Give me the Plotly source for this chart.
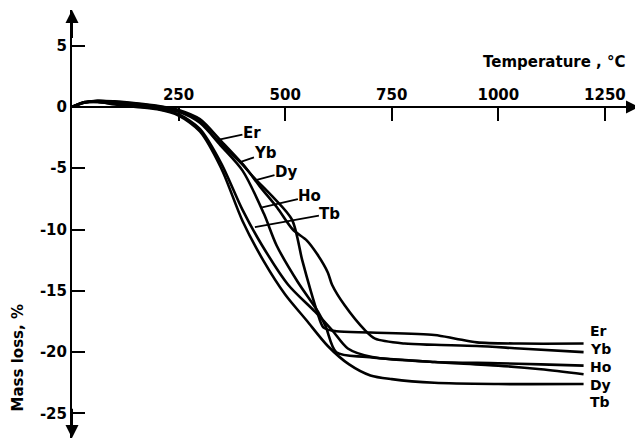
import plotly.graph_objects as go

# ---- data ----
er_t = [0, 30, 60, 100, 150, 200, 250, 300, 340, 400, 425, 470, 516, 540, 560, 575, 590, 620, 700, 850, 900, 950, 1050, 1200]
er_m = [0, 0.35, 0.5, 0.4, 0.25, 0.05, -0.3, -1.2, -2.7, -4.7, -5.7, -7.3, -9.2, -12.5, -15.0, -16.7, -18.0, -18.3, -18.4, -18.6, -18.9, -19.2, -19.3, -19.3]

yb_t = [0, 30, 60, 100, 150, 200, 250, 300, 350, 406, 441, 481, 518, 551, 575, 600, 610, 640, 687, 711, 780, 851, 950, 1050, 1200]
yb_m = [0, 0.35, 0.5, 0.45, 0.3, 0.1, -0.25, -1.0, -2.8, -4.9, -6.5, -8.2, -10.0, -10.9, -12.0, -13.5, -14.5, -16.2, -18.2, -18.9, -19.3, -19.4, -19.5, -19.7, -20.0]

dy_t = [0, 30, 60, 100, 150, 200, 250, 300, 350, 400, 450, 480, 530, 577, 595, 620, 690, 850, 1000, 1100, 1200]
dy_m = [0, 0.4, 0.45, 0.3, 0.1, -0.1, -0.4, -1.3, -3.2, -5.2, -8.7, -11.3, -14.3, -16.7, -17.9, -20.0, -20.4, -20.8, -21.1, -21.4, -21.8]

ho_t = [0, 30, 60, 100, 150, 200, 250, 300, 350, 400, 446, 507, 570, 610, 647, 704, 851, 1000, 1100, 1200]
ho_m = [0, 0.4, 0.4, 0.25, 0.05, -0.15, -0.6, -1.8, -4.6, -8.4, -11.3, -14.5, -16.7, -18.2, -19.7, -20.4, -20.8, -20.9, -21.0, -21.1]

tb_t = [0, 30, 60, 100, 150, 200, 250, 300, 350, 400, 450, 500, 550, 600, 650, 700, 750, 850, 1000, 1200]
tb_m = [0, 0.35, 0.4, 0.2, 0.0, -0.2, -0.7, -2.0, -5.0, -9.3, -12.6, -15.3, -17.4, -19.5, -21.0, -21.9, -22.2, -22.5, -22.6, -22.6]

x_ticks = [250, 500, 750, 1000, 1250]
x_tick_text = ["250", "500", "750", "1000", "1250"]
y_ticks = [5, 0, -5, -10, -15, -20, -25]
y_tick_text = ["5", "0", "-5", "-10", "-15", "-20", "-25"]

series = [("Er", er_t, er_m), ("Yb", yb_t, yb_m), ("Dy", dy_t, dy_m),
          ("Ho", ho_t, ho_m), ("Tb", tb_t, tb_m)]

# end labels (right side) and inner labels with leader lines
end_labels = [("Er", -18.3), ("Yb", -19.75), ("Ho", -21.2), ("Dy", -22.65), ("Tb", -24.1)]
inner_labels = [  # name, text x, text y, curve point x, curve point y
    ("Er", 422, -2.1, 342, -2.7),
    ("Yb", 455, -3.8, 394, -4.5),
    ("Dy", 502, -5.3, 429, -6.0),
    ("Ho", 558, -7.3, 446, -8.2),
    ("Tb", 605, -8.7, 429, -9.8),
]

FONT = dict(family="DejaVu Sans", size=15, color="black", weight="bold")
FONT_END = dict(family="DejaVu Sans", size=14, color="black", weight="bold")

fig = go.Figure()
for name, t, m in series:
    fig.add_trace(go.Scatter(x=t, y=m, mode="lines", name=name,
                             line=dict(color="black", width=2.6, shape="spline", smoothing=0.8),
                             showlegend=False, hoverinfo="skip"))

XMAX = 1330
YMIN, YMAX = -27.0, 7.9

# page body has an 8px margin, so the figure is sized/offset to compensate
fig.update_layout(
    width=635, height=432,
    margin=dict(l=64, r=4, t=2, b=2, autoexpand=False),
    paper_bgcolor="white", plot_bgcolor="white",
    showlegend=False,
    xaxis=dict(range=[0, XMAX], showgrid=False, zeroline=False, automargin=False,
               showline=True, linecolor="black", linewidth=2,
               anchor="free", position=(0 - YMIN) / (YMAX - YMIN), side="top",
               ticks="inside", ticklen=13, tickwidth=2, tickcolor="black",
               tickvals=x_ticks, ticktext=x_tick_text, tickfont=FONT),
    yaxis=dict(range=[YMIN, YMAX], showgrid=False, zeroline=False, automargin=False,
               showline=True, linecolor="black", linewidth=2,
               ticks="inside", ticklen=13, tickwidth=2, tickcolor="black",
               tickvals=y_ticks, ticktext=y_tick_text, tickfont=FONT),
)

anns = []
# axis arrows
arrow = dict(showarrow=True, arrowhead=2, arrowsize=1.3, arrowwidth=2, arrowcolor="black",
             text="", xref="x", yref="y", axref="x", ayref="y")
anns.append(dict(x=0, y=YMAX, ax=0, ay=5.5, **arrow))
anns.append(dict(x=0, y=YMIN, ax=0, ay=-24.5, **arrow))
anns.append(dict(x=XMAX, y=0, ax=1200, ay=0, **arrow))

anns.append(dict(text="Temperature , °C", x=1304, y=3.7, xref="x", yref="y",
                 xanchor="right", yanchor="middle", showarrow=False, font=FONT))
anns.append(dict(text="Mass loss, %", x=-0.095, y=-20.5, xref="paper", yref="y",
                 textangle=-90, xanchor="center", yanchor="middle", showarrow=False, font=FONT))

for name, yv in end_labels:
    anns.append(dict(text=name, x=1212, y=yv, xref="x", yref="y", xanchor="left",
                     yanchor="middle", showarrow=False, font=FONT_END, borderpad=0))

for name, tx, ty, px, py in inner_labels:
    anns.append(dict(text=name, x=px, y=py, ax=tx, ay=ty, xref="x", yref="y",
                     axref="x", ayref="y", showarrow=True, arrowhead=0, arrowwidth=1.8,
                     arrowcolor="black", font=FONT, borderpad=0))

fig.update_layout(annotations=anns)
fig.write_html("out.html")
